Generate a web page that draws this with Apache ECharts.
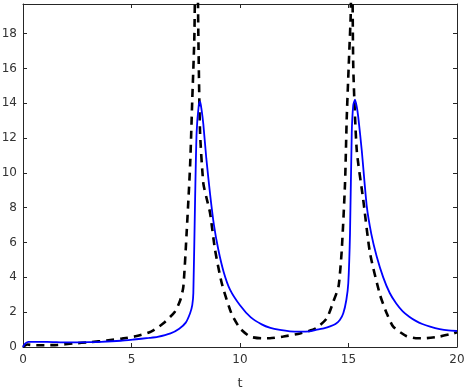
<!DOCTYPE html>
<html>
<head>
<meta charset="utf-8">
<script src="https://cdn.jsdelivr.net/npm/echarts@6/dist/echarts.min.js"></script>
<style>
  html, body { margin: 0; padding: 0; background: #fff; }
  #chart { width: 467px; height: 389px; }
</style>
</head>
<body>
<div id="chart"></div>
<script>
// blue solid curve
var tBlue = [0, 0.05, 0.12, 0.25, 0.6, 1.1, 2.0, 3.0, 3.6, 4.5, 5.1, 5.8, 6.2, 6.8, 7.2, 7.5, 7.7, 7.8, 7.85, 7.93, 8.0, 8.1, 8.16, 8.22, 8.31, 8.45, 8.62, 8.8, 9.0, 9.25, 9.54, 10.0, 10.5, 11.0, 11.4, 11.84, 12.3, 12.76, 13.2, 13.5, 13.9, 14.15, 14.4, 14.6, 14.76, 14.9, 14.99, 15.07, 15.15, 15.22, 15.3, 15.38, 15.45, 15.61, 15.84, 16.05, 16.3, 16.6, 16.9, 17.2, 17.5, 17.8, 18.1, 18.4, 18.76, 19.2, 19.6, 20];
var yBlue = [0, 0.12, 0.22, 0.29, 0.3, 0.3, 0.26, 0.28, 0.3, 0.36, 0.43, 0.52, 0.58, 0.78, 1.05, 1.4, 1.94, 2.4, 3.1, 8.45, 12.3, 13.9, 14.1, 13.7, 12.8, 10.8, 8.8, 7.0, 5.6, 4.3, 3.3, 2.4, 1.7, 1.3, 1.1, 0.98, 0.9, 0.88, 0.9, 0.98, 1.08, 1.18, 1.32, 1.55, 1.94, 2.7, 3.66, 6.54, 12.3, 13.9, 14.2, 13.8, 13.2, 11.3, 8.1, 6.5, 5.2, 4.0, 3.1, 2.5, 2.05, 1.74, 1.5, 1.32, 1.17, 1.03, 0.95, 0.92];

// black dashed curve
var tDash = [0, 0.2, 0.5, 1.0, 1.6, 2.3, 3.1, 3.85, 4.55, 5.24, 5.9, 6.47, 7.0, 7.25, 7.39, 7.54, 7.7, 7.8, 7.9, 7.99, 8.08, 8.16, 8.31, 8.45, 8.62, 8.85, 9.16, 9.6, 10.0, 10.46, 11.0, 11.38, 12.0, 12.76, 13.5, 14.0, 14.3, 14.54, 14.69, 14.84, 14.92, 15.04, 15.1, 15.16, 15.22, 15.38, 15.68, 15.99, 16.45, 16.76, 17.06, 17.68, 18.2, 18.45, 19.2, 19.83, 20];
var yDash = [0, 0.14, 0.1, 0.1, 0.12, 0.2, 0.28, 0.37, 0.48, 0.63, 0.88, 1.36, 2.03, 2.7, 3.47, 6.54, 10.4, 14.2, 18.0, 28, 18.0, 12.3, 9.4, 8.6, 7.7, 5.58, 3.66, 1.94, 1.07, 0.6, 0.5, 0.5, 0.6, 0.78, 1.07, 1.65, 2.6, 3.47, 5.58, 9.4, 13.2, 17.1, 19.0, 24, 16.1, 11.3, 8.45, 5.4, 3.0, 1.94, 1.17, 0.62, 0.5, 0.5, 0.6, 0.78, 0.85];

var xTicks = { min: 0, max: 20, interval: 5 };
var yTicks = { min: 0, max: 19.7, interval: 2 };

function pairs(ts, ys) {
  return ts.map(function (t, i) { return [t, ys[i]]; });
}

var chart = echarts.init(document.getElementById('chart'));
var axisCol = '#262626';
var labelFont = { color: '#333', fontFamily: 'DejaVu Sans', fontSize: 12 };

var option = {
  animation: false,
  backgroundColor: '#fff',
  grid: { left: 23, right: 10, top: 4, bottom: 42, containLabel: false, outerBoundsMode: 'none' },
  xAxis: [
    {
      type: 'value', min: xTicks.min, max: xTicks.max, interval: xTicks.interval,
      name: 't', nameLocation: 'middle', nameGap: 30,
      nameTextStyle: { color: '#333', fontFamily: 'DejaVu Sans', fontSize: 13 },
      axisLine: { show: true, onZero: false, lineStyle: { color: axisCol, width: 1 } },
      axisTick: { inside: true, length: 4, lineStyle: { color: axisCol } },
      axisLabel: Object.assign({ margin: 7 }, labelFont),
      splitLine: { show: false }
    },
    {
      type: 'value', position: 'top', min: xTicks.min, max: xTicks.max, interval: xTicks.interval,
      axisLine: { show: true, onZero: false, lineStyle: { color: axisCol, width: 1 } },
      axisTick: { inside: true, length: 4, lineStyle: { color: axisCol } },
      axisLabel: { show: false },
      splitLine: { show: false }
    }
  ],
  yAxis: [
    {
      type: 'value', min: yTicks.min, max: yTicks.max, interval: yTicks.interval,
      axisLine: { show: true, onZero: false, lineStyle: { color: axisCol, width: 1 } },
      axisTick: { inside: true, length: 4, lineStyle: { color: axisCol } },
      axisLabel: Object.assign({ margin: 6, showMaxLabel: false }, labelFont),
      splitLine: { show: false }
    },
    {
      type: 'value', position: 'right', min: yTicks.min, max: yTicks.max, interval: yTicks.interval,
      axisLine: { show: true, onZero: false, lineStyle: { color: axisCol, width: 1 } },
      axisTick: { inside: true, length: 4, lineStyle: { color: axisCol } },
      axisLabel: { show: false },
      splitLine: { show: false }
    }
  ],
  series: [
    {
      name: 'dashed',
      type: 'line',
      data: pairs(tDash, yDash),
      showSymbol: false,
      clip: true,
      smooth: 0.2,
      lineStyle: { color: '#000', width: 2.6, type: [8, 6] }
    },
    {
      name: 'solid',
      type: 'line',
      data: pairs(tBlue, yBlue),
      showSymbol: false,
      clip: true,
      smooth: 0.2,
      lineStyle: { color: '#0000ff', width: 1.8 }
    }
  ]
};
chart.setOption(option);
</script>
</body>
</html>
